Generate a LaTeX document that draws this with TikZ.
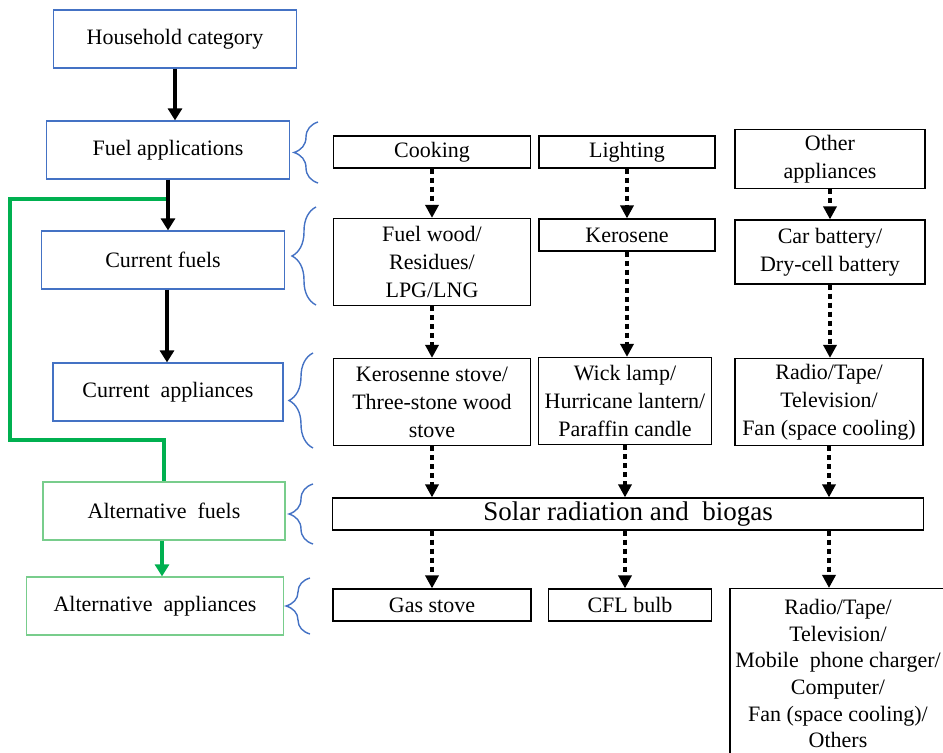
\documentclass[tikz,border=0pt]{standalone}
\usepackage{fontspec}
\setmainfont{Liberation Serif}
\usepackage{tikz}
\usetikzlibrary{arrows.meta,positioning,calc,decorations.pathreplacing}
\definecolor{boxblue}{RGB}{68,114,196}
\definecolor{boxgreen}{RGB}{120,205,140}
\definecolor{linegreen}{RGB}{0,176,80}

\begin{document}
\begin{tikzpicture}[x=0.5pt,y=-0.5pt,>=Triangle,font=\fontsize{11}{14}\selectfont]
\tikzstyle{lb}=[draw=boxblue,line width=0.6pt,minimum height=29pt,align=center]
\tikzstyle{gb}=[lb,draw=boxgreen]
\tikzstyle{rb}=[draw,line width=0.6pt,align=center,inner sep=1pt,minimum height=16pt]
\tikzstyle{arr}=[-{Triangle[width=7pt,length=6pt]},line width=1.8pt]
\tikzstyle{garr}=[arr,linegreen]
\tikzstyle{dots}=[-{Triangle[width=6.5pt,length=6.5pt]},line width=2pt,dash pattern=on 2.5pt off 2pt]
\tikzstyle{brc}=[draw=boxblue,line width=0.7pt,decorate,decoration={brace,amplitude=12pt}]
\useasboundingbox (0,0) rectangle (943,753);
\clip (0,0) rectangle (943,753);
% left column
\node[lb,minimum width=121.5pt] (hh) at (175,39) {Household category};
\node[lb,minimum width=121.5pt] (app) at (168,150) {Fuel applications};
\node[lb,minimum width=121.5pt] (cf) at (163,260) {Current fuels};
\node[lb,minimum width=115pt] (ca) at (168,392) {Current~ appliances};
\node[gb,minimum width=121pt] (af) at (164,511) {Alternative~ fuels};
\node[gb,minimum width=128.5pt] (aa) at (155,606) {Alternative~ appliances};
% right columns
\node[rb,minimum width=98.5pt] (cook) at (432,152) {Cooking};
\node[rb,minimum width=88pt] (light) at (627,152) {Lighting};
\node[rb,minimum width=95pt,minimum height=29.5pt] (other) at (830,159) {Other\\appliances};
\node[rb,minimum width=98.5pt,minimum height=43.5pt] (wood) at (432,262) {Fuel wood/\\Residues/\\LPG/LNG};
\node[rb,minimum width=88pt] (kero) at (627,235) {Kerosene};
\node[rb,minimum width=95pt,minimum height=32pt] (batt) at (830,252) {Car battery/\\Dry-cell battery};
\node[rb,minimum width=98.5pt,minimum height=43.5pt] (stove) at (432,402) {Kerosenne stove/\\Three-stone wood\\stove};
\node[rb,minimum width=86.5pt,minimum height=43.5pt] (lamp) at (625,401) {Wick lamp/\\Hurricane lantern/\\Paraffin candle};
\node[rb,minimum width=94pt,minimum height=43.5pt] (radio) at (829,402) {Radio/Tape/\\Television/\\Fan (space cooling)};
\node[rb,minimum width=295.5pt,font=\fontsize{13.5}{16}\selectfont] (solar) at (628,514) {Solar radiation and~ biogas};
\node[rb,minimum width=99pt] (gas) at (432,605) {Gas stove};
\node[rb,minimum width=81.5pt] (cfl) at (630,605) {CFL bulb};
\node[rb,anchor=north,minimum width=108pt,minimum height=85pt,font=\fontsize{11}{13.3}\selectfont] (more) at (838,588) {Radio/Tape/\\Television/\\Mobile~ phone charger/\\Computer/\\Fan (space cooling)/\\Others};
% flow on the left
\draw[arr] (hh.south) -- (hh.south |- app.north);
\draw[arr] (app.south) -- (app.south |- cf.north);
\draw[arr] ([xshift=2pt]cf.south) -- ([xshift=2pt]cf.south |- ca.north);
\coordinate (g1) at (166,199);
\draw[linegreen,line width=1.6pt] (g1) -| (10,440) -| (af.north);
\draw[garr] ([xshift=-1pt]af.south) -- ([xshift=-1pt]af.south |- aa.north);
% braces
\draw[brc] (318,183) -- (318,122);
\draw[brc] (316,305) -- (316,207);
\draw[brc] (313,448) -- (313,353);
\draw[brc] (313,544) -- (313,484);
\draw[brc] (310,634) -- (310,578);
% dotted links
\foreach \a/\b in {cook/wood,light/kero,other/batt,wood/stove,kero/lamp,batt/radio,stove/solar,lamp/solar,radio/solar}
  \draw[dots] (\a.south) -- (\a.south |- \b.north);
\foreach \a/\b in {stove/gas,lamp/cfl,radio/more}
  \draw[dots] (\a.south |- solar.south) -- (\a.south |- \b.north);
\end{tikzpicture}
\end{document}
